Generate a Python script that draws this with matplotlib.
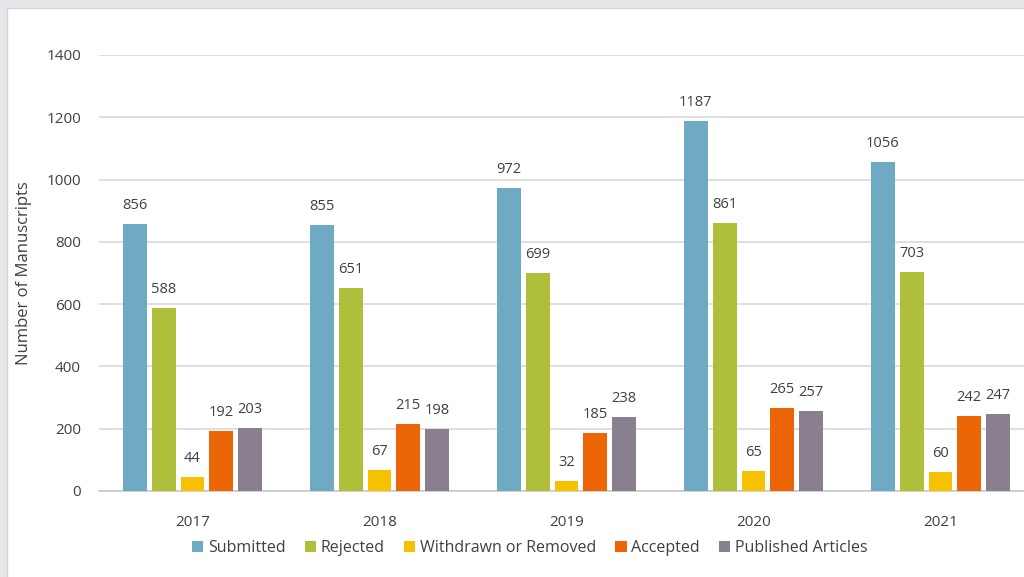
import numpy as np
import matplotlib.pyplot as plt
from matplotlib.patches import Rectangle

plt.rcParams['font.family'] = ['Open Sans', 'DejaVu Sans']

# Daten
years = ['2017', '2018', '2019', '2020', '2021']
series = ['Submitted', 'Rejected', 'Withdrawn or Removed', 'Accepted', 'Published Articles']
submitted = [856, 855, 972, 1187, 1056]
rejected = [588, 651, 699, 861, 703]
withdrawn = [44, 67, 32, 65, 60]
accepted = [192, 215, 185, 265, 242]
published = [203, 198, 238, 257, 247]
colors = ['#6faac4', '#afbf3b', '#f6c100', '#ec6608', '#8a7f8e']

values = [submitted, rejected, withdrawn, accepted, published]

fig = plt.figure(figsize=(10.24, 5.77), dpi=100)
fig.patch.set_facecolor('#e6e7eb')
# weisse Flaeche
fig.patches.append(Rectangle((7 / 1024, -0.1), 1.1, 1.1 - 8 / 577, transform=fig.transFigure,
                             facecolor='white', edgecolor='#d4d5d9', linewidth=1, zorder=-10))

W, H = 1024, 577
ax = fig.add_axes([99 / W, (H - 491) / H, (1034 - 99) / W, (491 - 55) / H])
ax.set_facecolor('none')

x = np.arange(len(years))
pitch = 0.154
width = 0.128
for i, (name, vals, col) in enumerate(zip(series, values, colors)):
    pos = x + (i - 2) * pitch
    bars = ax.bar(pos, vals, width, color=col, label=name, zorder=3)
    ax.bar_label(bars, padding=8, fontsize=10.5, color='#404040')

ax.set_xlim(-0.5, len(years) - 0.5)
ax.set_ylim(0, 1400)
ax.set_yticks(range(0, 1401, 200))
ax.set_xticks(x)
ax.set_xticklabels(years)
ax.tick_params(axis='both', length=0, labelsize=11, colors='#404040')
ax.tick_params(axis='y', pad=13)
ax.tick_params(axis='x', pad=17)
ax.grid(axis='y', color='#d9d9d9', linewidth=1.2, zorder=0)
for s in ['top', 'right', 'left']:
    ax.spines[s].set_visible(False)
ax.spines['bottom'].set_color('#c8c8c8')
ax.spines['bottom'].set_linewidth(1.2)
ax.set_ylabel('Number of Manuscripts', fontsize=12, color='#404040', labelpad=10)

fig.legend(loc='center', bbox_to_anchor=(530 / W, 1 - 548 / H), ncol=5, frameon=False,
           fontsize=11.5, handlelength=0.7, handleheight=0.7, handletextpad=0.3,
           columnspacing=1.2, labelcolor='#404040')

fig.savefig('out.png', dpi=100, facecolor=fig.get_facecolor())
